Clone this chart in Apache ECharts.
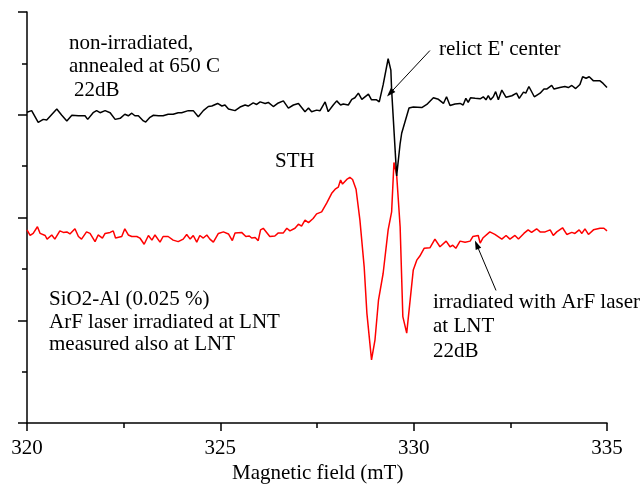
<!DOCTYPE html>
<html>
<head>
<meta charset="utf-8">
<script src="https://cdn.jsdelivr.net/npm/echarts@6/dist/echarts.min.js"></script>
<style>
  html, body { margin: 0; padding: 0; background: #fff; }
  #chart { width: 642px; height: 486px; }
</style>
</head>
<body>
<div id="chart"></div>
<script>
// EPR spectra of SiO2-Al: magnetic field (mT) vs. signal (arbitrary units)

// non-irradiated sample, annealed at 650 C (black trace)
const fieldAnnealed = [
  320.00, 320.12, 320.29, 320.42, 320.51, 320.77, 320.90, 321.03, 321.16, 321.33,
  321.50, 321.57, 321.71, 321.80, 321.89, 322.02, 322.15, 322.28, 322.41, 322.53,
  322.62, 322.71, 322.79, 322.88, 323.01, 323.07, 323.18, 323.27, 323.40, 323.52,
  323.65, 323.78, 323.91, 324.00, 324.17, 324.30, 324.43, 324.56, 324.69, 324.78,
  324.93, 325.04, 325.12, 325.21, 325.38, 325.51, 325.64, 325.72, 325.85, 325.94,
  326.03, 326.16, 326.24, 326.37, 326.50, 326.63, 326.76, 326.89, 327.02, 327.19,
  327.28, 327.36, 327.49, 327.58, 327.71, 327.79, 327.92, 328.01, 328.11, 328.18,
  328.31, 328.40, 328.48, 328.53, 328.57, 328.66, 328.83, 328.91, 329.04, 329.11,
  329.21, 329.34, 329.41, 329.43, 329.56, 329.65, 329.69, 329.88, 329.99, 330.21,
  330.34, 330.51, 330.64, 330.77, 330.85, 330.94, 331.07, 331.20, 331.28, 331.35,
  331.41, 331.47, 331.59, 331.72, 331.80, 331.87, 331.93, 331.99, 332.06, 332.12,
  332.19, 332.28, 332.39, 332.54, 332.66, 332.73, 332.84, 332.90, 332.98, 333.12,
  333.27, 333.37, 333.44, 333.57, 333.63, 333.78, 333.91, 334.00, 334.09, 334.19,
  334.30, 334.37, 334.46, 334.54, 334.65, 334.73, 334.82, 334.90, 335.00
];
const signalAnnealed = [
  6.05, 6.08, 5.85, 5.91, 5.90, 6.11, 5.99, 5.88, 5.99, 5.98,
  5.98, 5.91, 6.04, 6.08, 6.04, 6.08, 6.04, 5.91, 5.93, 6.01,
  5.98, 6.03, 5.98, 5.98, 5.88, 5.86, 5.95, 5.99, 5.98, 5.98,
  6.01, 6.01, 6.04, 6.04, 6.08, 6.08, 5.96, 6.08, 6.16, 6.17,
  6.22, 6.17, 6.19, 6.11, 6.08, 6.15, 6.19, 6.17, 6.23, 6.20,
  6.25, 6.22, 6.24, 6.16, 6.23, 6.27, 6.13, 6.19, 6.22, 6.06,
  6.13, 6.06, 6.09, 6.08, 6.25, 6.06, 6.19, 6.27, 6.19, 6.21,
  6.19, 6.30, 6.33, 6.32, 6.42, 6.30, 6.40, 6.29, 6.29, 6.25,
  6.58, 7.09, 6.87, 6.48, 4.81, 5.44, 5.64, 6.13, 6.15, 6.14,
  6.20, 6.33, 6.30, 6.22, 6.35, 6.18, 6.21, 6.22, 6.19, 6.32,
  6.24, 6.33, 6.32, 6.31, 6.35, 6.29, 6.37, 6.29, 6.35, 6.45,
  6.29, 6.48, 6.34, 6.37, 6.42, 6.32, 6.44, 6.42, 6.55, 6.35,
  6.42, 6.50, 6.50, 6.57, 6.50, 6.53, 6.55, 6.53, 6.57, 6.51,
  6.59, 6.74, 6.71, 6.74, 6.66, 6.66, 6.66, 6.61, 6.53
];

// ArF laser irradiated at LNT, measured at LNT (red trace)
const fieldIrradiated = [
  320.00, 320.08, 320.16, 320.27, 320.34, 320.47, 320.52, 320.64, 320.72, 320.85,
  320.94, 321.03, 321.11, 321.24, 321.33, 321.41, 321.54, 321.63, 321.76, 321.84,
  321.95, 322.02, 322.15, 322.23, 322.29, 322.45, 322.53, 322.62, 322.71, 322.84,
  322.92, 323.03, 323.14, 323.23, 323.31, 323.44, 323.52, 323.65, 323.78, 323.91,
  324.04, 324.13, 324.22, 324.30, 324.39, 324.47, 324.56, 324.65, 324.73, 324.82,
  324.95, 325.08, 325.21, 325.31, 325.38, 325.55, 325.66, 325.75, 325.81, 325.90,
  325.98, 326.04, 326.11, 326.28, 326.41, 326.50, 326.63, 326.72, 326.80, 326.93,
  327.02, 327.10, 327.19, 327.28, 327.40, 327.49, 327.62, 327.75, 327.88, 327.97,
  328.05, 328.11, 328.16, 328.27, 328.35, 328.42, 328.51, 328.61, 328.72, 328.79,
  328.91, 329.00, 329.09, 329.21, 329.34, 329.43, 329.49, 329.56, 329.65, 329.72,
  329.82, 329.99, 330.08, 330.16, 330.27, 330.42, 330.55, 330.68, 330.84, 330.94,
  331.01, 331.09, 331.20, 331.33, 331.46, 331.53, 331.67, 331.72, 331.79, 331.97,
  332.10, 332.28, 332.39, 332.49, 332.62, 332.71, 332.85, 332.96, 333.05, 333.18,
  333.27, 333.40, 333.53, 333.61, 333.70, 333.85, 333.96, 334.09, 334.17, 334.28,
  334.35, 334.43, 334.52, 334.65, 334.82, 334.92, 335.00
];
const signalIrradiated = [
  3.76, 3.65, 3.69, 3.82, 3.69, 3.65, 3.58, 3.66, 3.58, 3.74,
  3.71, 3.72, 3.68, 3.78, 3.63, 3.58, 3.72, 3.69, 3.53, 3.66,
  3.60, 3.69, 3.71, 3.74, 3.60, 3.63, 3.78, 3.66, 3.63, 3.63,
  3.60, 3.48, 3.65, 3.56, 3.66, 3.52, 3.63, 3.63, 3.56, 3.53,
  3.58, 3.67, 3.58, 3.65, 3.52, 3.65, 3.60, 3.66, 3.58, 3.52,
  3.69, 3.72, 3.68, 3.55, 3.70, 3.71, 3.63, 3.64, 3.60, 3.61,
  3.55, 3.76, 3.79, 3.63, 3.64, 3.70, 3.70, 3.79, 3.74, 3.79,
  3.87, 3.83, 3.95, 3.90, 3.98, 4.07, 4.11, 4.28, 4.47, 4.55,
  4.59, 4.73, 4.65, 4.74, 4.78, 4.74, 4.55, 3.95, 3.04, 2.14,
  1.23, 1.62, 2.39, 2.91, 3.76, 4.11, 5.07, 4.83, 3.82, 2.07,
  1.75, 2.98, 3.17, 3.25, 3.40, 3.41, 3.58, 3.43, 3.54, 3.43,
  3.46, 3.40, 3.54, 3.52, 3.54, 3.63, 3.65, 3.50, 3.60, 3.72,
  3.67, 3.58, 3.65, 3.58, 3.65, 3.58, 3.69, 3.76, 3.71, 3.78,
  3.72, 3.72, 3.76, 3.65, 3.72, 3.80, 3.67, 3.71, 3.69, 3.76,
  3.69, 3.78, 3.67, 3.76, 3.79, 3.79, 3.74
];

// x axis: magnetic field range and tick step
const fieldMin = 320, fieldMax = 335, fieldStep = 5;
// y axis: arbitrary units
const signalMin = 0, signalMax = 8, signalStep = 2;

// arrows: [from, to] in data coordinates
const arrowRelict = [[330.42, 7.25], [329.39, 6.42]];
const arrowIrradiated = [[332.13, 2.58], [331.63, 3.47]];

const zip = (xs, ys) => xs.map((x, i) => [x, ys[i]]);

const FONT = '"Liberation Serif", "Times New Roman", serif';
const FS = 21;

function label(text, left, y) {
  return {
    type: 'text',
    left: left,
    top: y - 9,
    silent: true,
    style: { text: text, font: FS + 'px ' + FONT, fill: '#000' }
  };
}

function arrowLine(pair) {
  return {
    silent: true,
    symbol: ['none', 'triangle'],
    symbolSize: [6, 9],
    symbolKeepAspect: true,
    label: { show: false },
    itemStyle: { color: '#000' },
    lineStyle: { color: '#000', width: 1, type: 'solid' },
    emphasis: { disabled: true },
    animation: false,
    data: [[{ coord: pair[0] }, { coord: pair[1] }]]
  };
}

const chart = echarts.init(document.getElementById('chart'), null, { renderer: 'canvas' });
chart.setOption({
  animation: false,
  backgroundColor: '#fff',
  grid: { left: 27, right: 35, top: 12, bottom: 63, containLabel: false },
  xAxis: {
    type: 'value',
    min: fieldMin, max: fieldMax, interval: fieldStep,
    axisLine: { show: true, onZero: false, lineStyle: { color: '#000', width: 1.5 } },
    axisTick: { show: true, length: 8, lineStyle: { color: '#000', width: 1.5 } },
    minorTick: { show: true, splitNumber: 2, length: 5, lineStyle: { color: '#000', width: 1.5 } },
    splitLine: { show: false },
    axisLabel: { color: '#000', fontFamily: FONT, fontSize: FS, margin: 15 }
  },
  yAxis: {
    type: 'value',
    min: signalMin, max: signalMax, interval: signalStep,
    axisLine: { show: true, onZero: false, lineStyle: { color: '#000', width: 1.5 } },
    axisTick: { show: true, length: 9, lineStyle: { color: '#000', width: 1.5 } },
    minorTick: { show: true, splitNumber: 2, length: 5, lineStyle: { color: '#000', width: 1.5 } },
    splitLine: { show: false },
    axisLabel: { show: false }
  },
  series: [
    {
      name: 'non-irradiated',
      type: 'line',
      data: zip(fieldAnnealed, signalAnnealed),
      showSymbol: false,
      lineStyle: { color: '#000', width: 1.5 },
      z: 3,
      markLine: arrowLine(arrowRelict)
    },
    {
      name: 'irradiated',
      type: 'line',
      data: zip(fieldIrradiated, signalIrradiated),
      showSymbol: false,
      lineStyle: { color: '#ff0000', width: 1.5 },
      z: 2,
      markLine: arrowLine(arrowIrradiated)
    }
  ],
  graphic: [
    label('non-irradiated,', 69, 42),
    label('annealed at 650 C', 69, 65),
    label('22dB', 74, 89),
    label('STH', 275, 160),
    label("relict E' center", 439, 48),
    label('SiO2-Al (0.025 %)', 49, 298),
    label('ArF laser irradiated at LNT', 49, 321),
    label('measured also at LNT', 49, 343),
    label('irradiated with ArF laser', 433, 301),
    label('at LNT', 433, 325),
    label('22dB', 433, 350),
    label('Magnetic field (mT)', 232, 472)
  ]
});
</script>
</body>
</html>
